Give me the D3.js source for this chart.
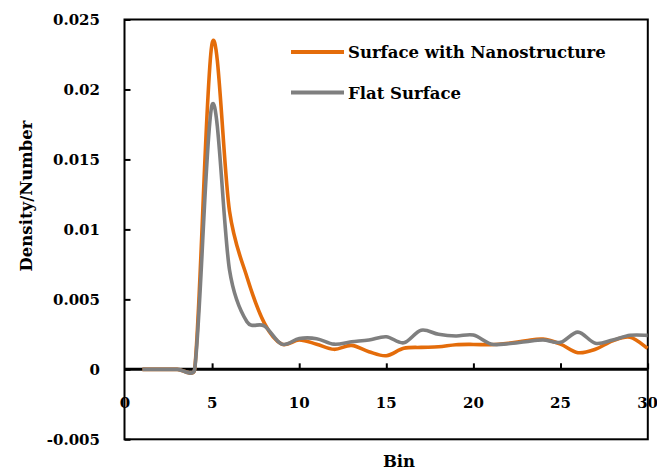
<!DOCTYPE html>
<html><head><meta charset="utf-8">
<script src="https://cdn.jsdelivr.net/npm/d3@7"></script>
<style>
html,body{margin:0;padding:0;background:#fff;}
svg{display:block;}
text{font-family:"DejaVu Serif",serif;font-weight:bold;fill:#000;}
</style></head>
<body><svg id="chart" width="657" height="470"></svg>
<script>
const bins = [1,2,3,4,5,6,7,8,9,10,11,12,13,14,15,16,17,18,19,20,21,22,23,24,25,26,27,28,29,30];
const nanoValues = [0,0,0,0,0.0233,0.0113,0.0066,0.0033,0.0018,0.0021,0.0018,0.00143,0.00171,0.00126,0.00097,0.0015,0.00157,0.00161,0.00176,0.00178,0.00176,0.00186,0.00204,0.00216,0.0018,0.00119,0.00143,0.00204,0.00229,0.0015];
const flatValues = [0,0,0,0,0.0189,0.0071,0.0034,0.0031,0.0018,0.0022,0.00219,0.0018,0.00197,0.0021,0.00233,0.0019,0.0028,0.0025,0.00238,0.00245,0.00181,0.00183,0.00197,0.0021,0.00193,0.00266,0.00186,0.0021,0.00243,0.00243];
const seriesNames = ["Surface with Nanostructure","Flat Surface"];
const seriesColors = ["#E46C0A","#7F7F7F"];
const xTicks = [0,5,10,15,20,25,30];
const yTicks = [-0.005,0,0.005,0.01,0.015,0.02,0.025];
const yTickLabels = ["-0.005","0","0.005","0.01","0.015","0.02","0.025"];
const xTitle = "Bin", yTitle = "Density/Number";

// Spreadsheet-style smoothed line: Bezier with tangent factor 1/6, limited by segment length
function SmoothCurve(context){ this._context = context; }
SmoothCurve.prototype = {
  areaStart(){ this._line = 0; }, areaEnd(){ this._line = NaN; },
  lineStart(){ this._pts = []; },
  point(x,y){ this._pts.push([+x,+y]); },
  lineEnd(){
    const p = this._pts, c = this._context, n = p.length;
    if (!n) return;
    c.moveTo(p[0][0], p[0][1]);
    const dist = (a,b)=>Math.hypot(a[0]-b[0], a[1]-b[1]);
    for (let i=0;i<n-1;i++){
      const P0 = p[i-1]||p[i], P1 = p[i], P2 = p[i+1], P3 = p[i+2]||p[i+1];
      const d12 = dist(P1,P2), d02 = dist(P0,P2), d13 = dist(P1,P3);
      const f1 = d02>0 ? Math.min(1/6, d12/(2*d02)) : 0;
      const f2 = d13>0 ? Math.min(1/6, d12/(2*d13)) : 0;
      c.bezierCurveTo(P1[0]+f1*(P2[0]-P0[0]), P1[1]+f1*(P2[1]-P0[1]),
                      P2[0]-f2*(P3[0]-P1[0]), P2[1]-f2*(P3[1]-P1[1]),
                      P2[0], P2[1]);
    }
  }
};
const smoothCurve = ctx => new SmoothCurve(ctx);

const svg = d3.select("#chart");
const L = 124.5, R = 647.8, T = 19.5, B = 439.3;
const x = d3.scaleLinear().domain([0,30]).range([125,647.6]);
const y = d3.scaleLinear().domain([-0.005,0.025]).range([B,T]);

// frame
svg.append("rect").attr("x",L).attr("y",T).attr("width",R-L).attr("height",B-T)
  .attr("fill","none").attr("stroke","#000").attr("stroke-width",2);

// y axis ticks
const yAxis = d3.axisRight(y).tickValues(yTicks).tickSize(6).tickFormat("");
const gy = svg.append("g").attr("transform",`translate(${L},0)`).call(yAxis);
gy.select(".domain").remove();
gy.selectAll("line").attr("stroke","#000").attr("stroke-width",2);
svg.append("g").selectAll("text").data(yTicks).join("text")
  .attr("x",100).attr("y",d=>y(d)).attr("dy","0.36em").attr("text-anchor","end")
  .style("font-size","15px").text((d,i)=>yTickLabels[i]);

// x axis at y=0, ticks pointing up
const xAxis = d3.axisTop(x).tickValues(xTicks.filter(d=>d>0)).tickSize(6).tickFormat("");
const gx = svg.append("g").attr("transform",`translate(0,${y(0)})`).call(xAxis);
gx.select(".domain").remove();
gx.selectAll("line").attr("stroke","#000").attr("stroke-width",2);
svg.append("line").attr("x1",L).attr("x2",R).attr("y1",y(0)).attr("y2",y(0))
  .attr("stroke","#000").attr("stroke-width",3);
svg.append("g").selectAll("text").data(xTicks).join("text")
  .attr("x",d=>x(d)).attr("y",y(0)+39).attr("text-anchor","middle")
  .style("font-size","15px").text(d=>d);

// titles
svg.append("text").attr("x",399).attr("y",467).attr("text-anchor","middle")
  .style("font-size","16.5px").text(xTitle);
svg.append("text").attr("transform","translate(32,196) rotate(-90)").attr("text-anchor","middle")
  .style("font-size","16.5px").text(yTitle);

// lines
const line = d3.line().x((d,i)=>x(bins[i])).y(d=>y(d)).curve(smoothCurve);
[nanoValues, flatValues].forEach((vals,k)=>{
  svg.append("path").datum(vals).attr("d",line).attr("fill","none")
    .attr("stroke",seriesColors[k]).attr("stroke-width",3.6).attr("stroke-linejoin","round");
});

// legend
const lg = svg.append("g");
seriesNames.forEach((n,k)=>{
  const ly = 52 + k*40.5;
  lg.append("line").attr("x1",291).attr("x2",344).attr("y1",ly).attr("y2",ly)
    .attr("stroke",seriesColors[k]).attr("stroke-width",4);
  lg.append("text").attr("x",348).attr("y",ly+6).style("font-size","16.5px").text(n);
});
</script></body></html>
